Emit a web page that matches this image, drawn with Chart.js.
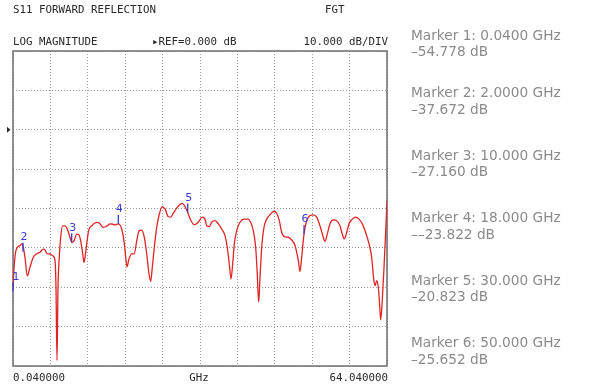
<!DOCTYPE html>
<html>
<head>
<meta charset="utf-8">
<script src="https://cdn.jsdelivr.net/npm/chart.js@4/dist/chart.umd.min.js"></script>
<style>
  html, body { margin: 0; padding: 0; background: #fff; }
</style>
</head>
<body>
<canvas id="myChart" width="600" height="385"></canvas>
<script>
// trace: frequency (GHz) and S11 (dB)
var freqGHz = [0.04, 0.21, 0.47, 0.67, 0.95, 1.24, 1.53, 1.75, 2.09, 2.49, 2.95, 3.51, 4.10, 4.66, 5.22, 5.52, 5.91, 6.37, 6.83, 7.23, 7.40, 7.57, 7.74, 7.96, 8.20, 8.54, 8.94, 9.33, 9.79, 10.08, 10.48, 10.94, 11.33, 11.62, 11.97, 12.19, 12.41, 12.65, 12.99, 13.51, 14.36, 14.81, 15.49, 16.18, 16.64, 17.15, 17.49, 18.06, 18.64, 19.03, 19.33, 19.55, 19.89, 20.35, 20.80, 21.21, 21.65, 22.06, 22.51, 22.92, 23.31, 23.60, 23.88, 24.22, 24.63, 25.08, 25.59, 26.05, 26.62, 27.03, 27.47, 28.05, 28.62, 29.01, 29.47, 29.94, 30.50, 31.06, 31.75, 32.43, 32.90, 33.19, 33.63, 34.04, 34.61, 35.17, 35.75, 36.32, 36.71, 37.05, 37.34, 37.63, 37.91, 38.32, 38.88, 39.57, 40.30, 40.71, 41.16, 41.57, 41.84, 42.08, 42.31, 42.60, 42.99, 43.45, 44.02, 44.70, 45.16, 45.61, 46.02, 46.58, 47.15, 47.73, 48.30, 48.86, 49.15, 49.44, 49.84, 50.30, 50.86, 51.43, 52.01, 52.57, 53.14, 53.43, 53.82, 54.28, 54.85, 55.43, 56.00, 56.39, 56.73, 57.14, 57.54, 58.10, 58.68, 59.25, 59.81, 60.39, 60.96, 61.42, 61.76, 61.99, 62.28, 62.55, 62.79, 62.96, 63.23, 63.53, 63.82, 64.04];
var s11dB = [-40.0, -35.3, -31.2, -30.2, -29.6, -29.4, -29.0, -29.5, -32.4, -37.1, -34.9, -32.4, -31.5, -31.1, -30.3, -30.5, -31.5, -31.5, -32.0, -33.2, -40.4, -58.6, -40.0, -32.4, -27.3, -24.4, -24.4, -25.2, -27.3, -28.6, -28.2, -26.5, -26.7, -28.2, -31.5, -33.7, -32.0, -29.0, -25.6, -24.4, -23.5, -23.7, -24.8, -24.4, -23.9, -24.0, -24.2, -23.9, -25.2, -28.2, -32.4, -34.8, -32.8, -31.5, -31.5, -28.2, -25.6, -25.5, -27.3, -31.5, -36.6, -38.5, -34.9, -29.9, -24.8, -21.4, -19.5, -20.1, -22.1, -22.2, -21.2, -19.9, -19.0, -18.7, -19.5, -21.0, -23.1, -24.1, -23.5, -22.2, -22.7, -24.4, -24.6, -23.5, -23.1, -23.9, -25.2, -26.9, -29.9, -34.1, -37.9, -34.1, -29.0, -25.6, -23.5, -22.7, -22.7, -23.5, -25.6, -29.9, -36.6, -43.8, -37.5, -29.9, -24.8, -22.7, -21.6, -20.7, -21.2, -23.1, -26.1, -27.2, -27.3, -28.0, -29.4, -33.2, -36.0, -32.4, -26.5, -23.1, -21.8, -21.6, -22.2, -24.4, -27.3, -28.4, -26.5, -23.9, -22.9, -23.1, -24.4, -26.5, -27.7, -26.1, -23.9, -22.7, -22.2, -22.7, -23.9, -26.1, -29.0, -32.4, -37.9, -39.6, -38.3, -40.0, -44.7, -48.3, -43.4, -34.9, -25.6, -18.0];

// markers as placed on the trace
var markerNum = ['1', '2', '3', '4', '5', '6'];
var markerGHz = [0.04, 1.75, 10.08, 18.06, 29.94, 49.84];
var markerDb = [-41.0, -31.0, -28.6, -23.9, -21.0, -26.5];

// readout text on the right
var markerLines = [
  ['Marker 1: 0.0400 GHz', '\u201354.778 dB'],
  ['Marker 2: 2.0000 GHz', '\u201337.672 dB'],
  ['Marker 3: 10.000 GHz', '\u201327.160 dB'],
  ['Marker 4: 18.000 GHz', '\u2013\u201323.822 dB'],
  ['Marker 5: 30.000 GHz', '\u201320.823 dB'],
  ['Marker 6: 50.000 GHz', '\u201325.652 dB']
];

var fMin = 0.04, fMax = 64.04, dbMin = -60, dbMax = 20;
var xDivs = 10;

var points = freqGHz.map(function(f, i){ return {x: f, y: s11dB[i]}; });

var mono = '10.8px "DejaVu Sans Mono", monospace';

var vnaText = {
  id: 'vnaText',
  beforeDatasetsDraw: function(chart){
    var ctx = chart.ctx, a = chart.chartArea;
    ctx.save();
    ctx.strokeStyle = '#6e6e6e';
    ctx.lineWidth = 1.5;
    ctx.strokeRect(a.left, a.top, a.right - a.left, a.bottom - a.top);
    ctx.restore();
  },
  afterDraw: function(chart){
    var ctx = chart.ctx, a = chart.chartArea;
    var ys = chart.scales.y;
    ctx.save();
    ctx.fillStyle = '#2a2a2a';
    ctx.font = mono;
    ctx.textBaseline = 'middle';
    ctx.textAlign = 'left';
    ctx.fillText('S11 FORWARD REFLECTION', a.left, 10);
    ctx.fillText('FGT', 325, 10);
    ctx.fillText('LOG MAGNITUDE', a.left, 42);
    ctx.fillText('\u25B8REF=0.000 dB', 152, 42);
    ctx.fillText('0.040000', a.left, 378);
    ctx.textAlign = 'center';
    ctx.fillText('GHz', 199, 378);
    ctx.textAlign = 'right';
    ctx.fillText('10.000 dB/DIV', a.right + 1, 42);
    ctx.fillText('64.040000', a.right + 1, 378);

    // reference arrow at 0 dB
    var ry = ys.getPixelForValue(0);
    ctx.beginPath();
    ctx.moveTo(7, ry - 3);
    ctx.lineTo(10.5, ry);
    ctx.lineTo(7, ry + 3);
    ctx.closePath();
    ctx.fill();

    // marker readout
    ctx.fillStyle = '#8a8a8a';
    ctx.font = '13.7px "DejaVu Sans", sans-serif';
    ctx.textAlign = 'left';
    var rowY = [36, 93.5, 156, 218.5, 281, 343.5];
    markerLines.forEach(function(l, i){
      ctx.fillText(l[0], 411, rowY[i]);
      ctx.fillText(l[1], 411, rowY[i] + 16.7);
    });
    ctx.restore();
  },
  afterDatasetsDraw: function(chart){
    var ctx = chart.ctx, xs = chart.scales.x, ys = chart.scales.y;
    ctx.save();
    ctx.strokeStyle = '#3a3ad0';
    ctx.fillStyle = '#3a3ad0';
    ctx.lineWidth = 1.3;
    ctx.font = '11px "DejaVu Sans", sans-serif';
    ctx.textAlign = 'center';
    ctx.textBaseline = 'bottom';
    markerGHz.forEach(function(f, i){
      var px = xs.getPixelForValue(f), py = ys.getPixelForValue(markerDb[i]);
      ctx.beginPath();
      ctx.moveTo(px, py);
      ctx.lineTo(px, py - 9);
      ctx.stroke();
      var lx = i === 0 ? px + 3 : px + 1;
      ctx.fillText(markerNum[i], lx, py - 9);
    });
    ctx.restore();
  }
};

var ctx = document.getElementById('myChart');
var myChart = new Chart(ctx, {
  type: 'scatter',
  data: {
    datasets: [{
      label: 'S11',
      data: points,
      showLine: true,
      borderColor: '#e02424',
      borderWidth: 1.3,
      pointRadius: 0,
      fill: false,
      cubicInterpolationMode: 'monotone'
    }]
  },
  options: {
    responsive: false,
    animation: false,
    layout: { padding: { left: 13, right: 213, top: 51, bottom: 19 } },
    plugins: { legend: { display: false }, tooltip: { enabled: false } },
    scales: {
      x: {
        type: 'linear',
        min: fMin,
        max: fMax,
        afterBuildTicks: function(scale){
          var t = [];
          for (var i = 0; i <= xDivs; i++) t.push({value: fMin + i * (fMax - fMin) / xDivs});
          scale.ticks = t;
        },
        ticks: { display: false },
        grid: { color: '#9a9a9a', lineWidth: 1, drawTicks: false },
        border: { display: false, dash: [1, 2] }
      },
      y: {
        min: dbMin,
        max: dbMax,
        ticks: { display: false, stepSize: 10 },
        grid: { color: '#9a9a9a', lineWidth: 1, drawTicks: false },
        border: { display: false, dash: [1, 2] }
      }
    }
  },
  plugins: [vnaText]
});
</script>
</body>
</html>
